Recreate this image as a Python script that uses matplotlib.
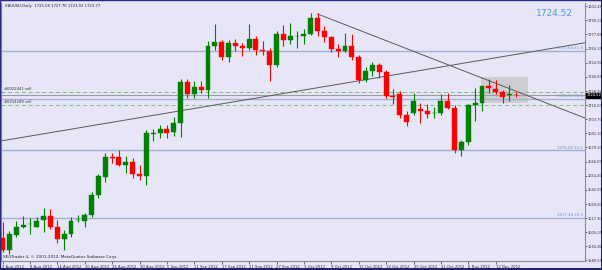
import matplotlib
matplotlib.use("Agg")
import matplotlib.pyplot as plt
import matplotlib.transforms as mtransforms
from matplotlib.patches import Rectangle
import pandas as pd

# ---------------- data ----------------
dates = pd.bdate_range("2012-08-02", "2012-11-15")

opens = [1600, 1590, 1603, 1609.5, 1612, 1610, 1616, 1619.6, 1609.4, 1599,
         1603.6, 1615.5, 1614.7, 1619.9, 1637.6, 1653.6, 1670.7, 1670.5, 1663.8, 1666.2,
         1656, 1654.5, 1691.2, 1692, 1695.2, 1692.3, 1700.2, 1736, 1726, 1732,
         1729.5, 1768, 1771, 1758, 1770, 1768, 1766, 1774, 1764, 1763,
         1751, 1778, 1773, 1776, 1776, 1778, 1792, 1781, 1775, 1765,
         1763, 1768, 1758, 1738, 1746, 1751, 1745, 1724, 1726, 1707.6,
         1709, 1712.5, 1710.5, 1708.8, 1709, 1719.8, 1713.4, 1677.1, 1683.5, 1715.7,
         1717.8, 1732.8, 1730, 1727.9, 1724.8, 1725.08]
highs = [1614, 1606, 1615, 1619, 1617.3, 1618.7, 1626, 1625.2, 1615.8, 1607,
         1618.7, 1620, 1622.2, 1640.5, 1656, 1674, 1674, 1676.9, 1671.6, 1669.6,
         1663.8, 1694.3, 1694.9, 1698.7, 1698.7, 1706, 1739, 1739, 1737, 1737,
         1772, 1787, 1773, 1773, 1774, 1770, 1787, 1776, 1772, 1766,
         1781, 1786, 1788, 1781, 1782, 1796, 1796, 1785, 1776, 1769,
         1779, 1778, 1760, 1749, 1754, 1753, 1747, 1730, 1728, 1710.5,
         1726.5, 1718, 1717, 1714, 1725.5, 1726.5, 1716, 1685.8, 1717, 1730.8,
         1733, 1738.6, 1737.5, 1729.5, 1733.7, 1727.76]
lows = [1588, 1586, 1601, 1608.5, 1603.6, 1609.4, 1605.7, 1607.7, 1595.5, 1589.7,
        1601, 1614, 1610, 1618.7, 1634.7, 1649.3, 1665.3, 1663, 1656.6, 1652.2,
        1650.7, 1646.4, 1685, 1687.1, 1687, 1689.1, 1688.5, 1722, 1722, 1727,
        1722, 1764, 1755, 1754, 1763, 1759, 1764, 1760, 1760, 1737,
        1749, 1768, 1769, 1766, 1769, 1777, 1776, 1771, 1762, 1758,
        1762, 1755, 1735, 1736, 1741, 1740, 1722, 1717, 1705, 1698,
        1707, 1700.6, 1705, 1705, 1707.5, 1712.5, 1674.3, 1672, 1681.5, 1701.8,
        1711, 1726.5, 1725.5, 1717.5, 1720, 1723.03]
closes = [1590, 1603.6, 1610, 1611.2, 1612.2, 1615.2, 1619, 1609.4, 1599, 1603.6,
          1615.2, 1615.8, 1619.9, 1637.6, 1654.2, 1670.5, 1670.3, 1663.8, 1666.2, 1656,
          1654.5, 1691.4, 1691.6, 1695.2, 1691.4, 1700.2, 1736, 1726, 1732, 1729.5,
          1768, 1771, 1758, 1770, 1768, 1766, 1774, 1764, 1763, 1751,
          1778, 1773, 1776, 1776.5, 1778, 1792, 1781, 1775, 1765, 1763,
          1768, 1758, 1738, 1746, 1751, 1745, 1724, 1723, 1707.5, 1700.9,
          1719.5, 1711, 1708.5, 1709.5, 1719.8, 1713.4, 1677.1, 1683.8, 1715.7, 1717.8,
          1732.8, 1730.8, 1727.9, 1723.5, 1725.7, 1724.52]

price_ticks = [1802.45, 1790.20, 1777.68, 1765.35, 1752.90, 1740.65, 1728.25,
               1716.00, 1703.70, 1691.30, 1679.10, 1666.65, 1654.40, 1642.05,
               1629.80, 1617.30, 1605.05, 1592.80, 1580.55]
bid = 1724.52

hlines_price = [1763.64, 1721.53, 1676.68, 1617.44]
hlines_text = ["1763.64 41.8", "1721.53 26.0", "1676.68 35.2", "1617.44 23.5"]
order_prices = [1727.2, 1716.2]
order_text = ["#6022441 sell", "#6014249 sell"]

asc_pts = [(0, 1685.0), (75, 1760.3)]
desc_pts = [(46, 1795.5), (81.4, 1713.2)]
box_x = [69.85, 76.7]
box_p = [1717.6, 1740.3]

title = "XAUUSD,Daily  1725.08 1727.76 1723.03 1723.77"
copyright_txt = "SEGTrader 4, \u00a9 2001-2012, MetaQuotes Software Corp."

# ---------------- drawing ----------------
W, H = 602, 270
BG = "#E6E6F7"
fig = plt.figure(figsize=(W / 100, H / 100), dpi=100, facecolor=BG)

L, R, T, B = 1, 585, 3, 261
ax = fig.add_axes([L / W, (H - B) / H, (R - L) / W, (B - T) / H], facecolor=BG)

step = 6.85
x0 = 2.5
ax.set_xlim((L - x0) / step, (R - x0) / step)
ax.set_ylim(1580.1, 1805.07)

n = len(closes)
idx = list(range(n))
bt = mtransforms.blended_transform_factory(ax.transAxes, ax.transData)

# rectangle object
ax.add_patch(Rectangle((box_x[0], box_p[0]), box_x[1] - box_x[0], box_p[1] - box_p[0],
                       facecolor="#CDCDD2", edgecolor="none", zorder=1))

# horizontal lines
for p in hlines_price:
    ax.axhline(p, color="#A3B0D6", lw=1.0, zorder=2)
for p, t in zip(hlines_price, hlines_text):
    ax.text(0.996, p + 0.6, t, transform=bt, ha="right", va="bottom",
            fontsize=2.8, color="#6F8FC8", zorder=3)
for p, t in zip(order_prices, order_text):
    ax.axhline(p, color="#7CC07C", lw=0.7, ls=(0, (4, 3)), zorder=2)
    ax.text(0.005, p + 0.8, t, transform=bt, ha="left", va="bottom",
            fontsize=2.7, color="#333333", zorder=3)
ax.axhline(bid, color="#9C9CA8", lw=0.8, zorder=2)

# trend lines
ax.axline(asc_pts[0], asc_pts[1], color="#5A5A5A", lw=0.7, zorder=2)
(xa, ya), (xb, yb) = desc_pts
slope = (yb - ya) / (xb - xa)
xe = 100
ax.plot([xa, xe], [ya, ya + slope * (xe - xa)], color="#5A5A5A", lw=0.7, zorder=2)

# candles
bw = 0.72
for i in idx:
    o, h, l, c = opens[i], highs[i], lows[i], closes[i]
    col = "#008000" if c >= o else "#FF0000"
    ax.vlines(i, l, h, color=col, lw=0.8, zorder=4)
    bot = min(o, c)
    hgt = max(abs(c - o), 0.35)
    ax.add_patch(Rectangle((i - bw / 2, bot), bw, hgt, facecolor=col, edgecolor=col,
                           lw=0.3, zorder=5))

# axes styling
ax.spines["top"].set_visible(False)
ax.spines["left"].set_color("#8888B0")
ax.spines["right"].set_color("#8A8A9A")
ax.spines["bottom"].set_color("#8A8A9A")
for s in ["left", "right", "bottom"]:
    ax.spines[s].set_linewidth(0.8)

ax.yaxis.tick_right()
ax.set_yticks(price_ticks)
ax.set_yticklabels([f"{v:.2f}" for v in price_ticks])
ax.tick_params(axis="y", length=1.5, width=0.5, pad=0.5, labelsize=2.6, colors="#333333")

lab_idx = idx[::4]
ax.set_xticks(lab_idx)
ax.set_xticklabels([f"{dates[i].day} {dates[i].strftime('%b %Y')}" for i in lab_idx],
                   ha="left")
ax.tick_params(axis="x", length=2, width=0.5, pad=0.8, labelsize=2.7, colors="#333333")

# current price box
ax.text(1.0025, bid, f"{bid:.2f}", transform=bt, ha="left", va="center",
        fontsize=2.6, color="white",
        bbox=dict(boxstyle="square,pad=0.12", fc="black", ec="black"), zorder=10, clip_on=False)

# big price text
ax.text(0.979, 0.975, f"{bid:.2f}", transform=ax.transAxes, ha="right", va="top",
        fontsize=6.5, color="#4C9BE0", zorder=10)

ax.text(0.006, 0.995, title, transform=ax.transAxes, ha="left", va="top",
        fontsize=2.7, color="#222222", zorder=10)
ax.text(0.004, 0.008, copyright_txt, transform=ax.transAxes, ha="left", va="bottom",
        fontsize=3.0, color="#222222", zorder=10)

# window frame
fig.patches.append(Rectangle((0, 0), 1, 1, transform=fig.transFigure, fill=False,
                             edgecolor="#2A2A80", lw=1.0, zorder=20))
fig.patches.append(Rectangle((600.5 / W, 0), 1.5 / W, 1, transform=fig.transFigure,
                             facecolor="#23236E", edgecolor="none", zorder=20))
fig.patches.append(Rectangle((0, 0), 1, 2.5 / H, transform=fig.transFigure,
                             facecolor="#23236E", edgecolor="none", zorder=20))

fig.savefig("out.png", dpi=100, facecolor=BG)
